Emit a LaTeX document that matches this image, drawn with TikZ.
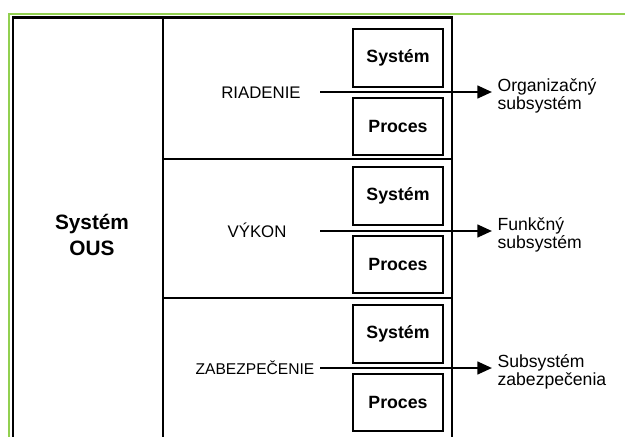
\documentclass[tikz,border=0pt]{standalone}
\usepackage{fontspec}
\setmainfont{Liberation Sans}
\usetikzlibrary{arrows.meta,positioning}
\definecolor{framegreen}{RGB}{146,208,80}
\tikzset{
  greenline/.style={draw=framegreen, line width=1.6pt},
  frameline/.style={draw, line width=1.8pt},
  innerline/.style={draw, line width=1.5pt},
  partbox/.style={draw, line width=1.4pt, minimum width=67.5pt, minimum height=43pt, inner sep=0pt, font=\fontsize{13.3}{15}\selectfont\bfseries},
  mainlabel/.style={align=center, font=\fontsize{15.6}{20}\selectfont\bfseries},
  layerlabel/.style={anchor=base, inner sep=0pt, font=\fontsize{12.6}{15}\selectfont},
  outlabel/.style={anchor=west, align=left, inner sep=4pt, yshift=-3pt, font=\fontsize{13.2}{12.2}\selectfont},
  arrow/.style={-{Triangle[length=11pt, width=9.5pt]}, line width=1.8pt}
}
\begin{document}
\begin{tikzpicture}[x=0.75pt, y=-0.75pt, node distance=6.8pt]
  \clip (0,0) rectangle (625,436);
  \fill[white] (0,0) rectangle (625,436);

  % frame and dividers
  \draw[greenline] (9,440) -- (9,14) -- (625,14);
  \draw[frameline] (13.2,445) -- (13.2,17.3) -- (452,17.3) -- (452,445);
  \draw[innerline] (163,17) -- (163,445);
  \draw[innerline] (163,159) -- (452,159);
  \draw[innerline] (163,298) -- (452,298);

  \node[mainlabel] (ous) at (92,235) {Systém\\OUS};

  % riadenie
  \node[partbox] (sys1) at (398,58) {Systém};
  \node[partbox, below=of sys1] (proc1) {Proces};
  \node[layerlabel] (riad) at (261,98) {RIADENIE};
  \coordinate (riadstart) at (320,92);
  \node[outlabel] (org) at (492,92) {Organizačný\\subsystém};

  % vykon
  \node[partbox] (sys2) at (398,196) {Systém};
  \node[partbox, below=of sys2] (proc2) {Proces};
  \node[layerlabel] (vyk) at (257,237) {VÝKON};
  \coordinate (vykstart) at (320,231);
  \node[outlabel] (fun) at (492,231) {Funkčný\\subsystém};

  % zabezpecenie
  \node[partbox] (sys3) at (398,334) {Systém};
  \node[partbox, below=of sys3] (proc3) {Proces};
  \node[layerlabel, font=\fontsize{11.7}{15}\selectfont] (zab) at (255,374) {ZABEZPEČENIE};
  \coordinate (zabstart) at (320,368);
  \node[outlabel] (sub) at (492,368) {Subsystém\\zabezpečenia};

  \draw[arrow] (riadstart) -- (riadstart -| org.west);
  \draw[arrow] (vykstart) -- (vykstart -| fun.west);
  \draw[arrow] (zabstart) -- (zabstart -| sub.west);
\end{tikzpicture}
\end{document}
